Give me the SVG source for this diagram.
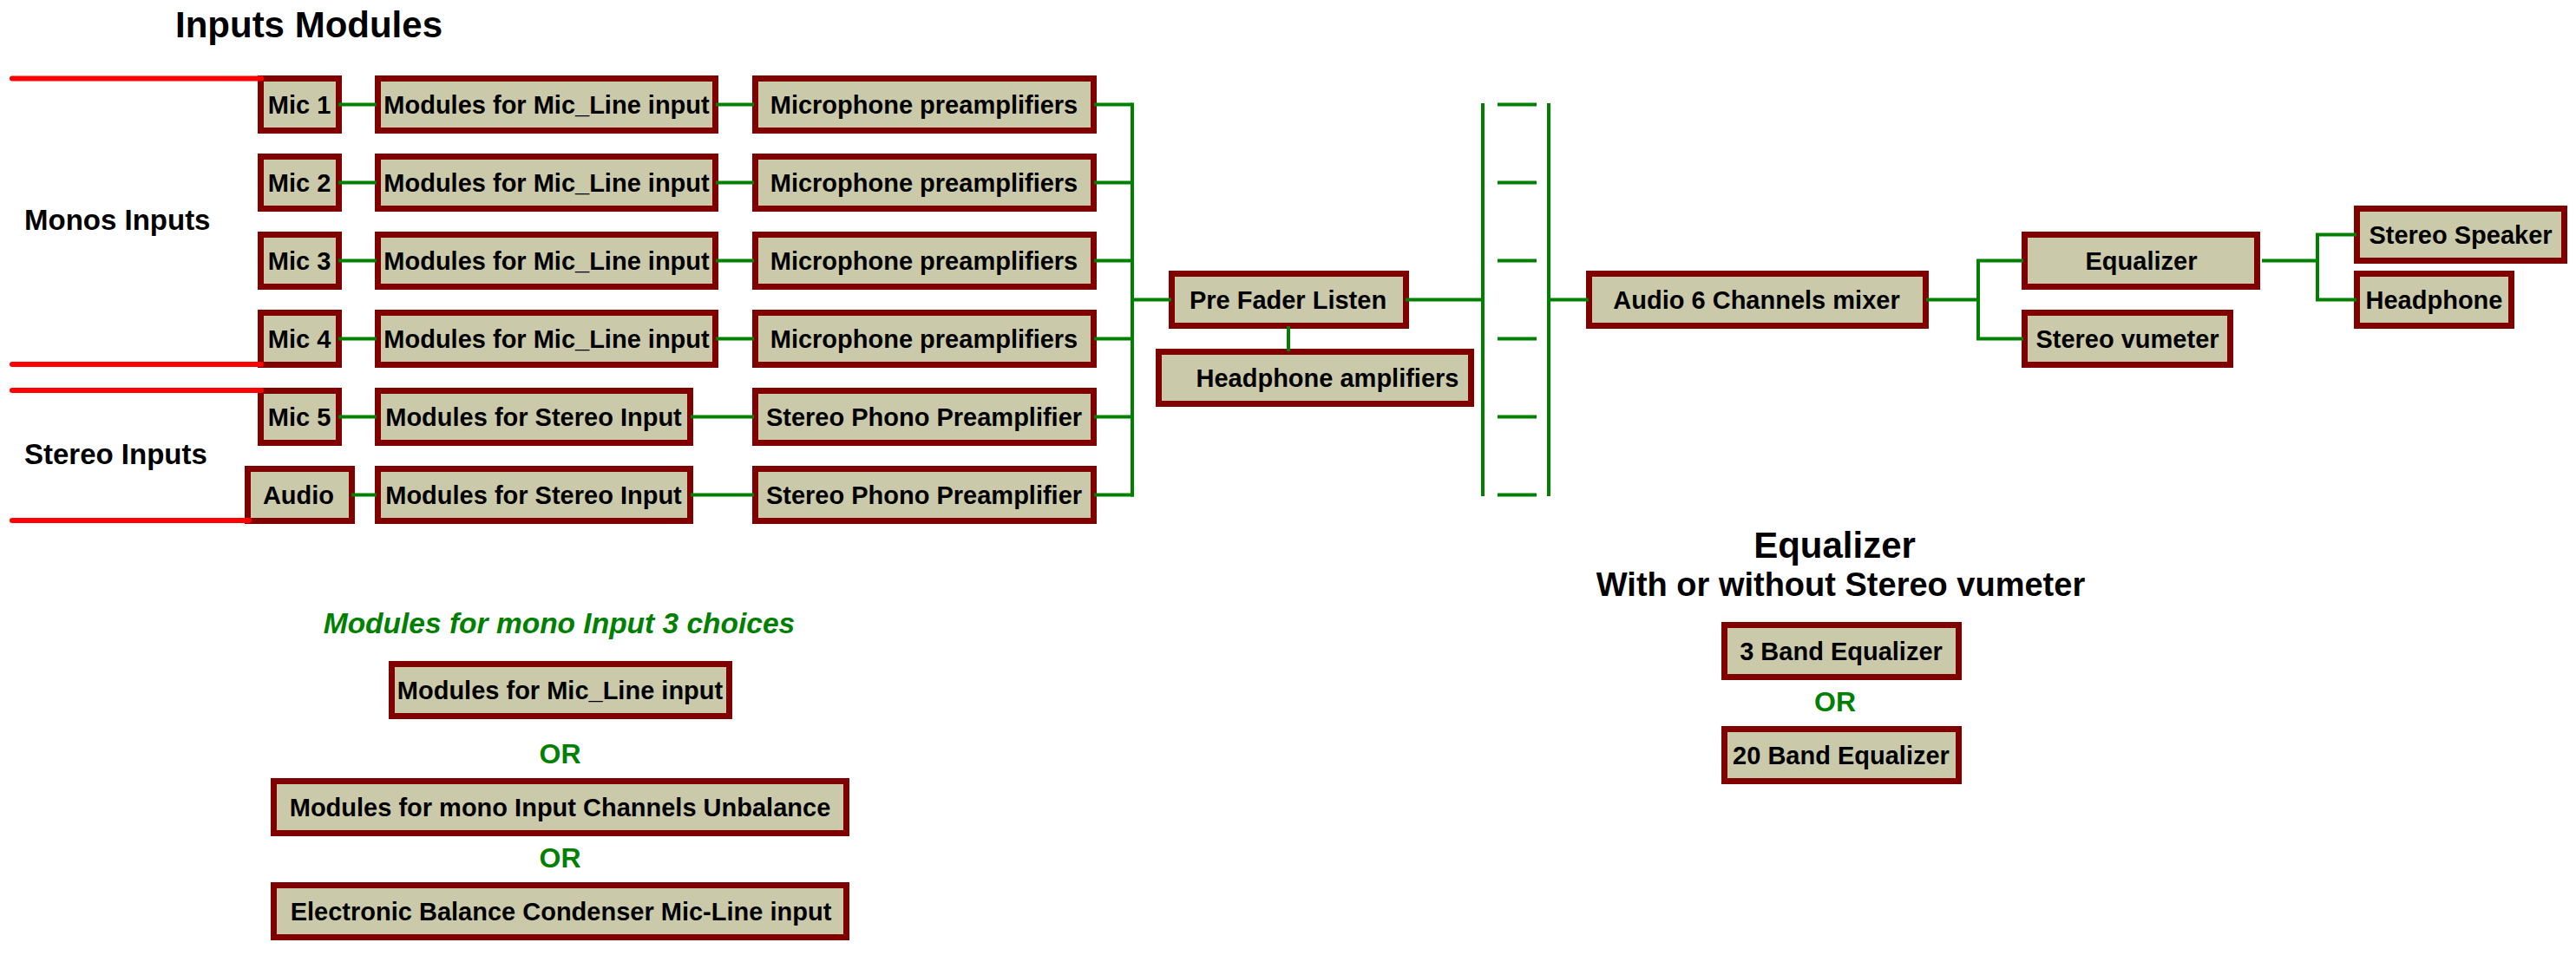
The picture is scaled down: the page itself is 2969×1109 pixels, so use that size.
<svg xmlns="http://www.w3.org/2000/svg" width="2969" height="1109" viewBox="0 0 2969 1109">
<style>
.n rect{fill:#CACAAA;stroke:#800000;stroke-width:7}
.n text{font-family:"Liberation Sans",Arial,sans-serif;font-weight:bold;font-size:29px;fill:#000;text-anchor:middle}
.c line,.c polyline{stroke:#008000;stroke-width:4;fill:none}
.r line{stroke:#FF0000;stroke-width:6;stroke-linecap:round}
.lbl{font-family:"Liberation Sans",Arial,sans-serif;font-weight:bold;fill:#000}
.or{font-family:"Liberation Sans",Arial,sans-serif;font-weight:bold;font-size:32px;fill:#008000;text-anchor:middle}
</style>
<rect width="2969" height="1109" fill="#fff"/>

<g id="labels">
<text class="lbl" x="202" y="43" font-size="42">Inputs Modules</text>
<text class="lbl" x="28" y="265" font-size="33">Monos Inputs</text>
<text class="lbl" x="28" y="535" font-size="33">Stereo Inputs</text>
<text class="lbl" x="644.5" y="730" font-size="33.5" font-style="italic" fill="#008000" style="fill:#008000" text-anchor="middle">Modules for mono Input 3 choices</text>
<text class="or" x="645.5" y="880">OR</text>
<text class="or" x="645.5" y="1000">OR</text>
<text class="lbl" x="2114.5" y="643" font-size="42" text-anchor="middle">Equalizer</text>
<text class="lbl" x="2121.5" y="687" font-size="38" text-anchor="middle">With or without Stereo vumeter</text>
<text class="or" x="2115" y="820">OR</text>
</g>

<g id="mic1" class="n"><rect x="300.5" y="90.5" width="90" height="60"/><text x="345" y="131">Mic 1</text></g>
<g id="mic2" class="n"><rect x="300.5" y="180.5" width="90" height="60"/><text x="345" y="221">Mic 2</text></g>
<g id="mic3" class="n"><rect x="300.5" y="270.5" width="90" height="60"/><text x="345" y="311">Mic 3</text></g>
<g id="mic4" class="n"><rect x="300.5" y="360.5" width="90" height="60"/><text x="345" y="401">Mic 4</text></g>
<g id="mic5" class="n"><rect x="300.5" y="450.5" width="90" height="60"/><text x="345" y="491">Mic 5</text></g>
<g id="audio" class="n"><rect x="285.5" y="540.5" width="120" height="60"/><text x="344" y="581">Audio</text></g>

<g id="mod1" class="n"><rect x="435.5" y="90.5" width="389" height="60"/><text x="630" y="131">Modules for Mic_Line input</text></g>
<g id="mod2" class="n"><rect x="435.5" y="180.5" width="389" height="60"/><text x="630" y="221">Modules for Mic_Line input</text></g>
<g id="mod3" class="n"><rect x="435.5" y="270.5" width="389" height="60"/><text x="630" y="311">Modules for Mic_Line input</text></g>
<g id="mod4" class="n"><rect x="435.5" y="360.5" width="389" height="60"/><text x="630" y="401">Modules for Mic_Line input</text></g>
<g id="mod5" class="n"><rect x="435.5" y="450.5" width="360" height="60"/><text x="615" y="491">Modules for Stereo Input</text></g>
<g id="mod6" class="n"><rect x="435.5" y="540.5" width="360" height="60"/><text x="615" y="581">Modules for Stereo Input</text></g>

<g id="pre1" class="n"><rect x="870.5" y="90.5" width="390" height="60"/><text x="1065" y="131">Microphone preamplifiers</text></g>
<g id="pre2" class="n"><rect x="870.5" y="180.5" width="390" height="60"/><text x="1065" y="221">Microphone preamplifiers</text></g>
<g id="pre3" class="n"><rect x="870.5" y="270.5" width="390" height="60"/><text x="1065" y="311">Microphone preamplifiers</text></g>
<g id="pre4" class="n"><rect x="870.5" y="360.5" width="390" height="60"/><text x="1065" y="401">Microphone preamplifiers</text></g>
<g id="phono1" class="n"><rect x="870.5" y="450.5" width="390" height="60"/><text x="1065" y="491">Stereo Phono Preamplifier</text></g>
<g id="phono2" class="n"><rect x="870.5" y="540.5" width="390" height="60"/><text x="1065" y="581">Stereo Phono Preamplifier</text></g>

<g id="prefader" class="n"><rect x="1350.5" y="315.5" width="270" height="60"/><text x="1484.5" y="356">Pre Fader Listen</text></g>
<g id="hpamp" class="n"><rect x="1335.5" y="405.5" width="360" height="60"/><text x="1530" y="446">Headphone amplifiers</text></g>
<g id="mixer" class="n"><rect x="1831.5" y="315.5" width="388" height="60"/><text x="2024.5" y="356">Audio 6 Channels mixer</text></g>
<g id="equalizer" class="n"><rect x="2333.5" y="270.5" width="268" height="60"/><text x="2468" y="311">Equalizer</text></g>
<g id="vumeter" class="n"><rect x="2333.5" y="360.5" width="237" height="60"/><text x="2452" y="401">Stereo vumeter</text></g>
<g id="speaker" class="n"><rect x="2716.5" y="240.5" width="239" height="60"/><text x="2836" y="281">Stereo Speaker</text></g>
<g id="headphone" class="n"><rect x="2716.5" y="315.5" width="178" height="60"/><text x="2805.5" y="356">Headphone</text></g>

<g id="alt1" class="n"><rect x="451.5" y="765.5" width="389" height="60"/><text x="645.5" y="806">Modules for Mic_Line input</text></g>
<g id="alt2" class="n"><rect x="315.5" y="900.5" width="660" height="60"/><text x="645.5" y="941">Modules for mono Input Channels Unbalance</text></g>
<g id="alt3" class="n"><rect x="315.5" y="1020.5" width="660" height="60"/><text x="646.5" y="1061">Electronic Balance Condenser Mic-Line input</text></g>
<g id="eq3" class="n"><rect x="1987.5" y="720.5" width="270" height="60"/><text x="2122" y="761">3 Band Equalizer</text></g>
<g id="eq20" class="n"><rect x="1987.5" y="840.5" width="270" height="60"/><text x="2122" y="881">20 Band Equalizer</text></g>

<g id="connectors">
<g class="r">
<line x1="14" y1="90.5" x2="301" y2="90.5"/>
<line x1="14" y1="420" x2="301" y2="420"/>
<line x1="14" y1="450" x2="301" y2="450"/>
<line x1="14" y1="600" x2="287" y2="600"/>
</g>
<g class="c">
<line x1="390" y1="120.5" x2="434" y2="120.5"/>
<line x1="390" y1="210.5" x2="434" y2="210.5"/>
<line x1="390" y1="300.5" x2="434" y2="300.5"/>
<line x1="390" y1="390.5" x2="434" y2="390.5"/>
<line x1="390" y1="480.5" x2="434" y2="480.5"/>
<line x1="405" y1="570.5" x2="434" y2="570.5"/>
<line x1="825" y1="120.5" x2="869" y2="120.5"/>
<line x1="825" y1="210.5" x2="869" y2="210.5"/>
<line x1="825" y1="300.5" x2="869" y2="300.5"/>
<line x1="825" y1="390.5" x2="869" y2="390.5"/>
<line x1="796" y1="480.5" x2="869" y2="480.5"/>
<line x1="796" y1="570.5" x2="869" y2="570.5"/>
<line x1="1261" y1="120.5" x2="1305" y2="120.5"/>
<line x1="1261" y1="210.5" x2="1305" y2="210.5"/>
<line x1="1261" y1="300.5" x2="1305" y2="300.5"/>
<line x1="1261" y1="390.5" x2="1305" y2="390.5"/>
<line x1="1261" y1="480.5" x2="1305" y2="480.5"/>
<line x1="1261" y1="570.5" x2="1307" y2="570.5"/>
<line x1="1305" y1="118.5" x2="1305" y2="572.5"/>
<line x1="1305" y1="345.5" x2="1350" y2="345.5"/>
<line x1="1485" y1="376" x2="1485" y2="405"/>
<line x1="1620" y1="345.5" x2="1709" y2="345.5"/>
<line x1="1709" y1="119" x2="1709" y2="572"/>
<line x1="1726" y1="120.5" x2="1771" y2="120.5"/>
<line x1="1726" y1="210.5" x2="1771" y2="210.5"/>
<line x1="1726" y1="300.5" x2="1771" y2="300.5"/>
<line x1="1726" y1="390.5" x2="1771" y2="390.5"/>
<line x1="1726" y1="480.5" x2="1771" y2="480.5"/>
<line x1="1726" y1="570.5" x2="1771" y2="570.5"/>
<line x1="1785" y1="119" x2="1785" y2="572"/>
<line x1="1785" y1="345.5" x2="1831" y2="345.5"/>
<line x1="2220" y1="345.5" x2="2280" y2="345.5"/>
<polyline points="2332,300.5 2280,300.5 2280,390.5 2332,390.5"/>
<line x1="2607" y1="300.5" x2="2671" y2="300.5"/>
<polyline points="2716,270.5 2671,270.5 2671,345.5 2716,345.5"/>
</g>
</g>
</svg>
